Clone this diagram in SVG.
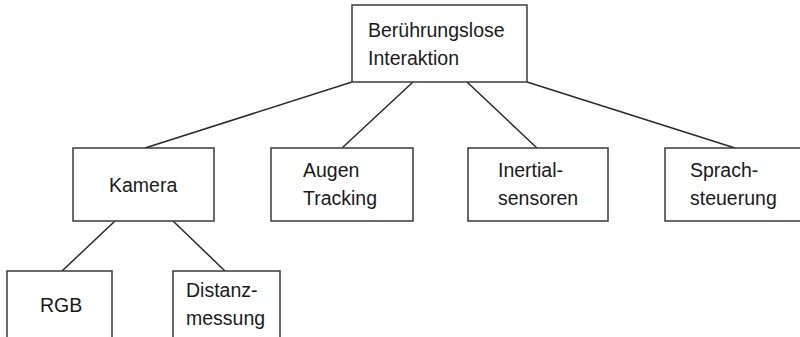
<svg xmlns="http://www.w3.org/2000/svg" width="800" height="337" viewBox="0 0 800 337">
<style>
.box{fill:#fff;stroke:#3a3a3a;stroke-width:1.5}
.lbl{font-family:"Liberation Sans",Arial,sans-serif;font-size:19.5px;fill:#1a1a1a}
.edge{stroke:#2a2a2a;stroke-width:1.5;fill:none}
</style>
<rect width="800" height="337" fill="#fff"/>
<g id="connectors">
<line class="edge" x1="352" y1="82" x2="145" y2="148"/>
<line class="edge" x1="413" y1="82" x2="342" y2="148"/>
<line class="edge" x1="467" y1="82" x2="537" y2="148"/>
<line class="edge" x1="527" y1="82" x2="735" y2="148"/>
<line class="edge" x1="115" y1="221" x2="62" y2="271"/>
<line class="edge" x1="173" y1="221" x2="225" y2="271"/>
</g>
<g id="root">
<rect class="box" x="352" y="5" width="175" height="77"/>
<text class="lbl" x="368" y="37">Berührungslose</text>
<text class="lbl" x="368" y="65">Interaktion</text>
</g>
<g id="kamera">
<rect class="box" x="73" y="148" width="141" height="73"/>
<text class="lbl" x="109" y="192">Kamera</text>
</g>
<g id="augen">
<rect class="box" x="271" y="148" width="142" height="73"/>
<text class="lbl" x="303" y="177">Augen</text>
<text class="lbl" x="303" y="205">Tracking</text>
</g>
<g id="inertial">
<rect class="box" x="468" y="148" width="140" height="73"/>
<text class="lbl" x="498" y="177">Inertial-</text>
<text class="lbl" x="498" y="205">sensoren</text>
</g>
<g id="sprach">
<rect class="box" x="665" y="148" width="141" height="73"/>
<text class="lbl" x="690" y="177">Sprach-</text>
<text class="lbl" x="690" y="205">steuerung</text>
</g>
<g id="rgb">
<rect class="box" x="7" y="271" width="105" height="80"/>
<text class="lbl" x="40" y="312">RGB</text>
</g>
<g id="distanz">
<rect class="box" x="173" y="271" width="107" height="80"/>
<text class="lbl" x="186" y="297">Distanz-</text>
<text class="lbl" x="186" y="325">messung</text>
</g>
</svg>
